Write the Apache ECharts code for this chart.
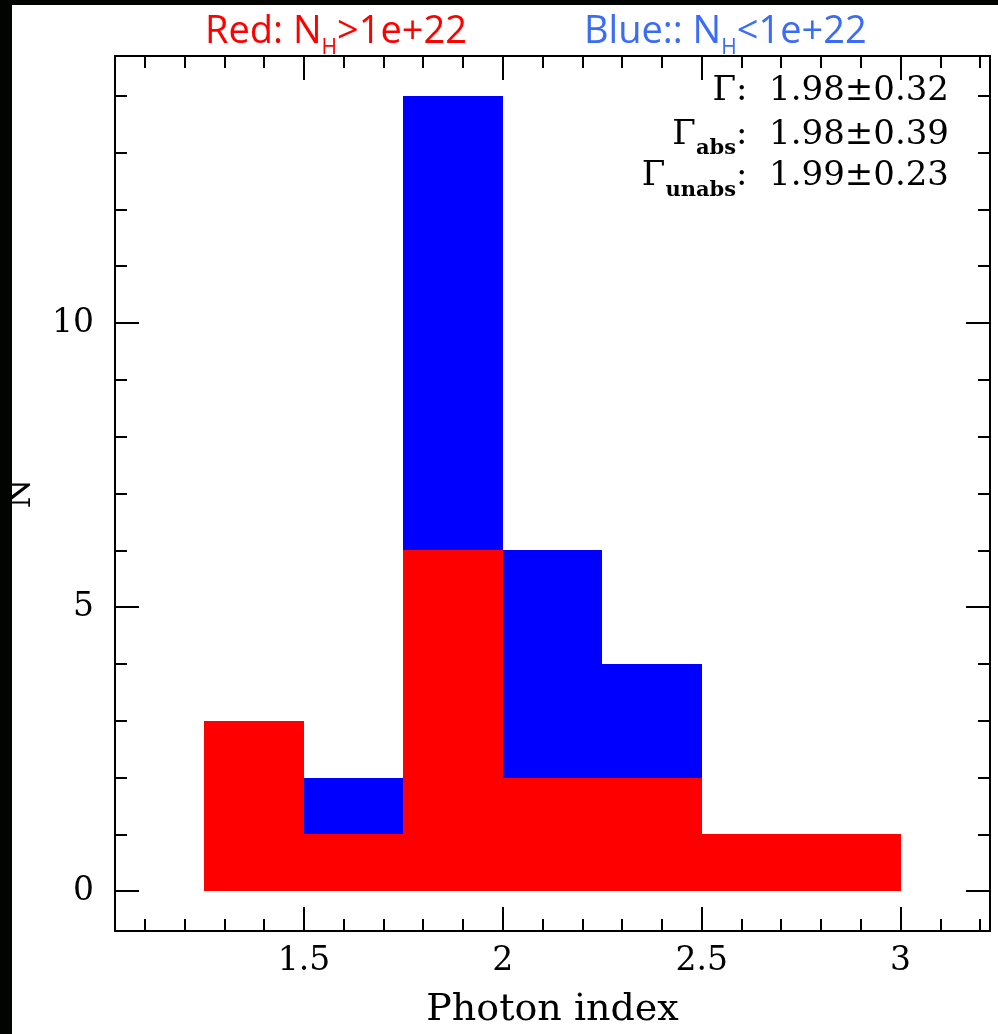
<!DOCTYPE html>
<html>
<head>
<meta charset="utf-8">
<title>Photon index distribution</title>
<script src="https://cdn.jsdelivr.net/npm/echarts@6/dist/echarts.min.js"></script>
<style>
  html, body { margin: 0; padding: 0; background: #fff; }
  #chart { width: 998px; height: 1034px; }
</style>
</head>
<body>
<div id="chart"></div>
<script>
// Histogram bins of photon index (edges)
const binEdges = [1.25, 1.5, 1.75, 2.0, 2.25, 2.5, 2.75, 3.0];
// Sources with N_H > 1e22 (red, bottom of stack)
const countsAbsorbed = [3, 1, 6, 2, 2, 1, 1];
// Sources with N_H < 1e22 (blue, stacked on top)
const countsUnabsorbed = [0, 1, 8, 4, 2, 0, 0];

// Axis ticks
const xMajorTicks = [1.5, 2, 2.5, 3];
const xMinorTicks = [1.1, 1.2, 1.3, 1.4, 1.6, 1.7, 1.8, 1.9, 2.1, 2.2, 2.3, 2.4,
                     2.6, 2.7, 2.8, 2.9, 3.1, 3.2];
const yMajorTicks = [0, 5, 10];
const yMinorTicks = [1, 2, 3, 4, 6, 7, 8, 9, 11, 12, 13, 14];

// Mean photon index and dispersion for all / absorbed / unabsorbed
const gammaSubscripts = ['', 'abs', 'unabs'];
const gammaMeans = [1.98, 1.98, 1.99];
const gammaSigmas = [0.32, 0.39, 0.23];

const X_MIN = 1.025, X_MAX = 3.225;
const Y_MIN = -0.7, Y_MAX = 14.7;

// Build stacked rectangles [x0, x1, yBottom, yTop]
const redRects = [], blueRects = [];
for (let i = 0; i < countsAbsorbed.length; i++) {
  const x0 = binEdges[i], x1 = binEdges[i + 1];
  const r = countsAbsorbed[i], b = countsUnabsorbed[i];
  redRects.push([x0, x1, 0, r]);
  if (b > 0) blueRects.push([x0, x1, r, r + b]);
}

const serif = 'DejaVu Serif';
const ink = { color: '#000', width: 2 };

// Pixel-snapped filled rectangle so neighbouring bins join without seams
function rectItem(params, api) {
  const p0 = api.coord([api.value(0), api.value(2)]);
  const p1 = api.coord([api.value(1), api.value(3)]);
  const left = Math.round(p0[0]), right = Math.round(p1[0]);
  const top = Math.round(p1[1]), bottom = Math.round(p0[1]);
  return {
    type: 'rect',
    shape: { x: left, y: top, width: right - left, height: bottom - top },
    style: { fill: api.visual('color') }
  };
}

function xAxisDef(position, ticks, len, withLine, withLabels) {
  return {
    type: 'value', position: position, min: X_MIN, max: X_MAX,
    axisLine: { show: withLine, onZero: false, lineStyle: ink },
    axisTick: { show: true, inside: true, length: len, customValues: ticks, lineStyle: ink },
    axisLabel: withLabels ? {
      show: true, customValues: ticks, margin: 14,
      fontFamily: serif, fontSize: 33, color: '#000'
    } : { show: false },
    splitLine: { show: false },
    name: withLabels ? 'Photon index' : '',
    nameLocation: 'middle', nameGap: 60,
    nameTextStyle: { fontFamily: serif, fontSize: 38, color: '#000' }
  };
}

function yAxisDef(position, ticks, len, withLine, withLabels) {
  return {
    type: 'value', position: position, min: Y_MIN, max: Y_MAX,
    axisLine: { show: withLine, onZero: false, lineStyle: ink },
    axisTick: { show: true, inside: true, length: len, customValues: ticks, lineStyle: ink },
    axisLabel: withLabels ? {
      show: true, customValues: ticks, margin: 21,
      fontFamily: serif, fontSize: 33, color: '#000'
    } : { show: false },
    splitLine: { show: false },
    name: withLabels ? 'N' : '',
    nameLocation: 'middle', nameGap: 77,
    nameTextStyle: { fontFamily: serif, fontSize: 34, color: '#000' }
  };
}

// Gamma summary lines (right-aligned, with subscripts)
const statRich = {
  g: { fontFamily: serif, fontSize: 34, lineHeight: 49, fill: '#000' },
  s: { fontFamily: serif, fontSize: 21, fontWeight: 'bold', lineHeight: 20,
       verticalAlign: 'bottom', fill: '#000' }
};
const statCenters = [91.5, 135, 176.5];
const statTexts = gammaSubscripts.map(function (sub, i) {
  const txt = '{g|\u0393}' + (sub ? '{s|' + sub + '}' : '') +
    '{g|:  ' + gammaMeans[i].toFixed(2) + '\u00b1' + gammaSigmas[i].toFixed(2) + '}';
  return {
    type: 'text', z: 50,
    style: {
      x: 949, y: statCenters[i], text: txt,
      align: 'right', verticalAlign: 'middle',
      textAlign: 'right', textVerticalAlign: 'middle',
      fill: '#000', rich: statRich
    }
  };
});

function titleText(x, color, pre, post) {
  return {
    type: 'text', z: 50,
    style: {
      x: x, y: 32,
      text: '{m|' + pre + '}{s|H}{m|' + post + '}',
      align: 'left', verticalAlign: 'middle',
      textAlign: 'left', textVerticalAlign: 'middle',
      fill: color,
      rich: {
        m: { fontFamily: 'Open Sans', fontSize: 38, lineHeight: 53, fill: color },
        s: { fontFamily: 'Open Sans', fontSize: 21, lineHeight: 20, verticalAlign: 'bottom', fill: color }
      }
    }
  };
}

const chart = echarts.init(document.getElementById('chart'), null, { renderer: 'canvas' });
chart.setOption({
  backgroundColor: '#ffffff',
  animation: false,
  grid: { left: 115, top: 56, right: 8, bottom: 103, containLabel: false, outerBoundsMode: 'none' },
  xAxis: [
    xAxisDef('bottom', xMajorTicks, 24, true, true),
    xAxisDef('bottom', xMinorTicks, 12, false, false),
    xAxisDef('top', xMajorTicks, 24, true, false),
    xAxisDef('top', xMinorTicks, 12, false, false)
  ],
  yAxis: [
    yAxisDef('left', yMajorTicks, 24, true, true),
    yAxisDef('left', yMinorTicks, 12, false, false),
    yAxisDef('right', yMajorTicks, 24, true, false),
    yAxisDef('right', yMinorTicks, 12, false, false)
  ],
  series: [
    {
      name: 'N_H > 1e22', type: 'custom', renderItem: rectItem,
      xAxisIndex: 0, yAxisIndex: 0, itemStyle: { color: '#ff0000' },
      encode: { x: [0, 1], y: [2, 3] }, data: redRects, z: 2
    },
    {
      name: 'N_H < 1e22', type: 'custom', renderItem: rectItem,
      xAxisIndex: 0, yAxisIndex: 0, itemStyle: { color: '#0000ff' },
      encode: { x: [0, 1], y: [2, 3] }, data: blueRects, z: 2
    }
  ],
  graphic: [
    // dark slide margins around the white panel
    { type: 'rect', z: 100, shape: { x: 0, y: 0, width: 12, height: 1034 }, style: { fill: '#020402' } },
    { type: 'rect', z: 100, shape: { x: 0, y: 0, width: 998, height: 5 }, style: { fill: '#020402' } },
    titleText(205, '#ff0000', 'Red: N', '>1e+22'),
    titleText(584, '#3b6cf6', 'Blue:: N', '<1e+22')
  ].concat(statTexts)
});
</script>
</body>
</html>
